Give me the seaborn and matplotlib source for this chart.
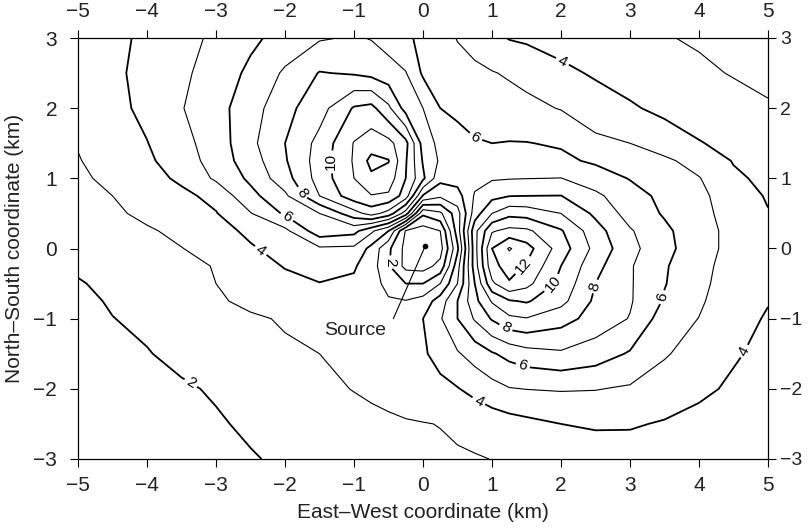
import numpy as np
import matplotlib
matplotlib.use("Agg")
import matplotlib.pyplot as plt
import seaborn as sns

# grid coordinates (km)
x_km = [-5, -4.5, -4, -3.5, -3, -2.5, -2, -1.5, -1, -0.75, -0.5, -0.25, 0,
        0.25, 0.5, 0.75, 1, 1.25, 1.5, 2, 2.5, 3, 3.5, 4, 4.5, 5]
y_km = [3, 2.5, 2, 1.5, 1.25, 1, 0.75, 0.5, 0.25, 0, -0.25, -0.5, -0.75,
        -1, -1.5, -2, -2.5, -3]

z_y300 = [3.4, 3.75, 4.2, 4.65, 5.2, 5.8, 6.35, 6.9, 7.1, 6.95, 6.6, 6.15, 5.8, 5.45, 4.95, 4.65, 4.3, 3.95, 3.85, 3.65, 3.45, 3.25, 3.05, 2.9, 2.75, 2.65]
z_y250 = [3.3, 3.8, 4.3, 4.8, 5.45, 6.2, 7.15, 8.05, 7.9, 7.7, 7.4, 7.05, 5.85, 5.6, 5.4, 5.2, 5.05, 4.9, 4.7, 4.2, 3.9, 3.65, 3.4, 3.15, 2.95, 2.75]
z_y200 = [3.2, 3.7, 4.25, 4.95, 5.65, 6.55, 7.7, 8.6, 10.1, 10.3, 9.2, 7.6, 7.0, 6.0, 5.75, 5.6, 5.45, 5.35, 5.25, 4.95, 4.4, 4.1, 3.8, 3.55, 3.3, 3.1]
z_y150 = [3.05, 3.5, 3.97, 4.7, 5.45, 6.75, 8.0, 9.3, 11.05, 11.5, 11.3, 10.3, 7.6, 6.7, 6.4, 6.08, 6.0, 6.04, 6.03, 5.9, 5.25, 5.0, 4.45, 4.05, 3.75, 3.55]
z_y125 = [2.95, 3.4, 3.85, 4.45, 5.45, 6.5, 7.9, 9.45, 11.1, 12.3, 12.05, 10.1, 7.9, 6.85, 6.5, 6.4, 6.4, 6.4, 6.35, 6.2, 5.85, 5.5, 5.2, 4.6, 3.95, 3.7]
z_y100 = [2.85, 3.2, 3.6, 4.2, 5.15, 6.2, 7.6, 9.4, 11.0, 11.8, 11.55, 10.0, 8.2, 6.3, 6.4, 6.7, 6.9, 6.95, 6.98, 7.02, 6.5, 5.95, 5.45, 5.05, 4.15, 3.8]
z_y075 = [2.7, 3.0, 3.4, 3.75, 4.3, 5.7, 6.8, 9.0, 10.6, 10.95, 10.85, 9.5, 5.9, 5.2, 5.6, 7.1, 7.7, 7.97, 8.0, 8.02, 7.2, 6.4, 5.75, 5.2, 4.55, 3.9]
z_y050 = [2.6, 2.85, 3.2, 3.55, 3.95, 4.95, 6.15, 7.0, 8.6, 9.4, 8.6, 6.5, 2.2, 2.8, 4.6, 7.5, 9.0, 9.7, 9.6, 9.0, 7.8, 6.6, 5.9, 5.3, 4.6, 4.05]
z_y025 = [2.45, 2.65, 2.9, 3.2, 3.65, 4.2, 4.75, 6.6, 6.3, 5.2, 4.0, 0.9, 0.5, 1.0, 4.5, 8.7, 10.9, 11.3, 11.2, 10.1, 8.4, 7.1, 6.2, 5.4, 4.7, 4.2]
z_y000 = [2.3, 2.5, 2.7, 2.98, 3.3, 3.9, 4.35, 4.85, 4.8, 3.7, 2.2, 0.7, 0.3, 0.6, 3.8, 8.6, 12.0, 13.1, 12.4, 10.5, 8.7, 7.3, 6.3, 5.4, 4.7, 4.3]
z_ym025 = [2.1, 2.3, 2.5, 2.75, 3.05, 3.6, 4.05, 4.4, 4.1, 3.5, 2.1, 0.7, 0.6, 1.3, 4.6, 8.5, 11.7, 12.4, 11.9, 10.0, 8.3, 7.1, 6.1, 5.3, 4.6, 4.15]
z_ym050 = [1.95, 2.15, 2.35, 2.6, 3.0, 3.4, 3.75, 3.97, 3.85, 3.4, 2.7, 2.0, 2.0, 3.0, 5.0, 8.0, 10.8, 11.9, 11.3, 9.7, 8.0, 7.1, 6.05, 5.25, 4.5, 4.1]
z_ym075 = [1.75, 2.1, 2.3, 2.5, 2.85, 3.25, 3.55, 3.7, 3.6, 3.35, 3.1, 3.05, 3.4, 4.5, 6.0, 7.7, 9.1, 9.9, 10.1, 9.3, 7.8, 7.1, 5.9, 5.15, 4.35, 4.05]
z_ym100 = [1.65, 1.98, 2.2, 2.4, 2.65, 2.85, 3.1, 3.35, 3.5, 3.55, 3.6, 3.75, 4.0, 4.9, 6.0, 7.1, 8.1, 8.8, 8.95, 8.4, 7.6, 6.95, 5.5, 4.98, 4.4, 3.9]
z_ym150 = [1.5, 1.75, 1.95, 2.25, 2.5, 2.7, 2.85, 3.0, 3.25, 3.4, 3.5, 3.65, 3.85, 4.4, 4.9, 5.4, 5.9, 6.3, 6.6, 6.85, 6.5, 5.9, 5.1, 4.55, 4.1, 3.75]
z_ym200 = [1.35, 1.55, 1.72, 1.88, 2.1, 2.4, 2.6, 2.8, 3.03, 3.15, 3.28, 3.45, 3.55, 3.7, 3.95, 4.3, 4.65, 4.95, 5.02, 5.08, 5.04, 4.88, 4.5, 4.2, 3.85, 3.6]
z_ym250 = [1.25, 1.4, 1.55, 1.72, 1.9, 2.15, 2.35, 2.55, 2.7, 2.78, 2.85, 2.92, 2.97, 3.02, 3.12, 3.25, 3.45, 3.6, 3.75, 4.0, 4.1, 4.08, 3.93, 3.7, 3.55, 3.4]
z_ym300 = [1.15, 1.28, 1.42, 1.58, 1.75, 1.93, 2.15, 2.35, 2.52, 2.6, 2.67, 2.75, 2.82, 2.87, 2.92, 2.95, 3.01, 3.1, 3.2, 3.4, 3.55, 3.6, 3.55, 3.45, 3.35, 3.25]

even_levels = [2, 4, 6, 8, 10, 12]
odd_levels = [1, 3, 5, 7, 9, 11, 13]

source_x, source_y = 0.03, 0.03
source_label = "Source"
source_label_x, source_label_y = -0.98, -1.23
source_line_end = (-0.43, -1.0)

x_ticks = [-5, -4, -3, -2, -1, 0, 1, 2, 3, 4, 5]
y_ticks = [-3, -2, -1, 0, 1, 2, 3]

rows = [z_y300, z_y250, z_y200, z_y150, z_y125, z_y100, z_y075, z_y050,
        z_y025, z_y000, z_ym025, z_ym050, z_ym075, z_ym100, z_ym150,
        z_ym200, z_ym250, z_ym300]
X = np.array(x_km)
Y = np.array(y_km[::-1])
Z = np.array(rows[::-1])

sns.set_theme(style="white")
plt.rcParams['font.family'] = ['Liberation Sans', 'DejaVu Sans']

fig = plt.figure(figsize=(8.09, 5.29), dpi=100)
ax = fig.add_axes([78 / 809, 1 - 459 / 529, 690 / 809, 421 / 529])

cs_odd = ax.contour(X, Y, Z, levels=odd_levels, colors='black', linewidths=0.8)
cs_even = ax.contour(X, Y, Z, levels=even_levels, colors='black', linewidths=1.3)

label_spots = [(-3.36, -1.91), (-0.5, -0.2), (-2.36, -0.04), (0.8, -2.19),
               (4.67, -1.47), (2.0, 2.63), (-2.0, 0.41), (0.75, 1.56),
               (3.45, -0.69), (1.45, -1.66), (-1.74, 0.8), (1.2, -1.13),
               (2.57, -0.56), (-1.38, 1.23), (1.86, -0.47), (1.41, -0.2)]
ax.clabel(cs_even, manual=label_spots, fmt='%d',
          fontsize=11, inline=True, inline_spacing=3)

sns.scatterplot(x=[source_x], y=[source_y], color='black', s=14,
                edgecolor='black', ax=ax, zorder=5, legend=False)
ax.plot([source_x, source_line_end[0]], [source_y, source_line_end[1]],
        color='black', lw=0.8)
ax.text(source_label_x, source_label_y, source_label, fontsize=14,
        ha='center', va='baseline', color='#222222')

ax.set_xlim(-5, 5)
ax.set_ylim(-3, 3)
ax.set_xticks(x_ticks)
ax.set_yticks(y_ticks)
ax.tick_params(axis='both', which='both', direction='out', length=6, width=0.8,
               color='black', labelsize=15, labelcolor='#222222',
               top=True, right=False, labeltop=True, labelright=False,
               bottom=True, left=True)
ax.tick_params(axis='x', pad=6)
ax.tick_params(axis='y', pad=9)
for sp in ax.spines.values():
    sp.set_visible(True)
    sp.set_color('black')
    sp.set_linewidth(0.9)

# right-hand ticks and labels
ax_r = ax.twinx()
ax_r.set_ylim(-3, 3)
ax_r.set_yticks(y_ticks)
ax_r.grid(False)
ax_r.tick_params(axis='y', direction='out', length=6, width=0.8, color='black',
                 labelsize=14, labelcolor='#222222', pad=3,
                 right=True, labelright=True, left=False, labelleft=False)
for sp in ax_r.spines.values():
    sp.set_visible(False)

ax.set_xlabel("East\u2013West coordinate (km)", fontsize=15, color='#222222')
ax.set_ylabel("North\u2013South coordinate (km)", fontsize=15, color='#222222')
ax.xaxis.set_label_coords(0.5, -0.105)
ax.yaxis.set_label_coords(-0.078, 0.5)
ax.grid(False)
ax.set_facecolor('white')
fig.patch.set_facecolor('white')

fig.savefig("out.png", dpi=100)
